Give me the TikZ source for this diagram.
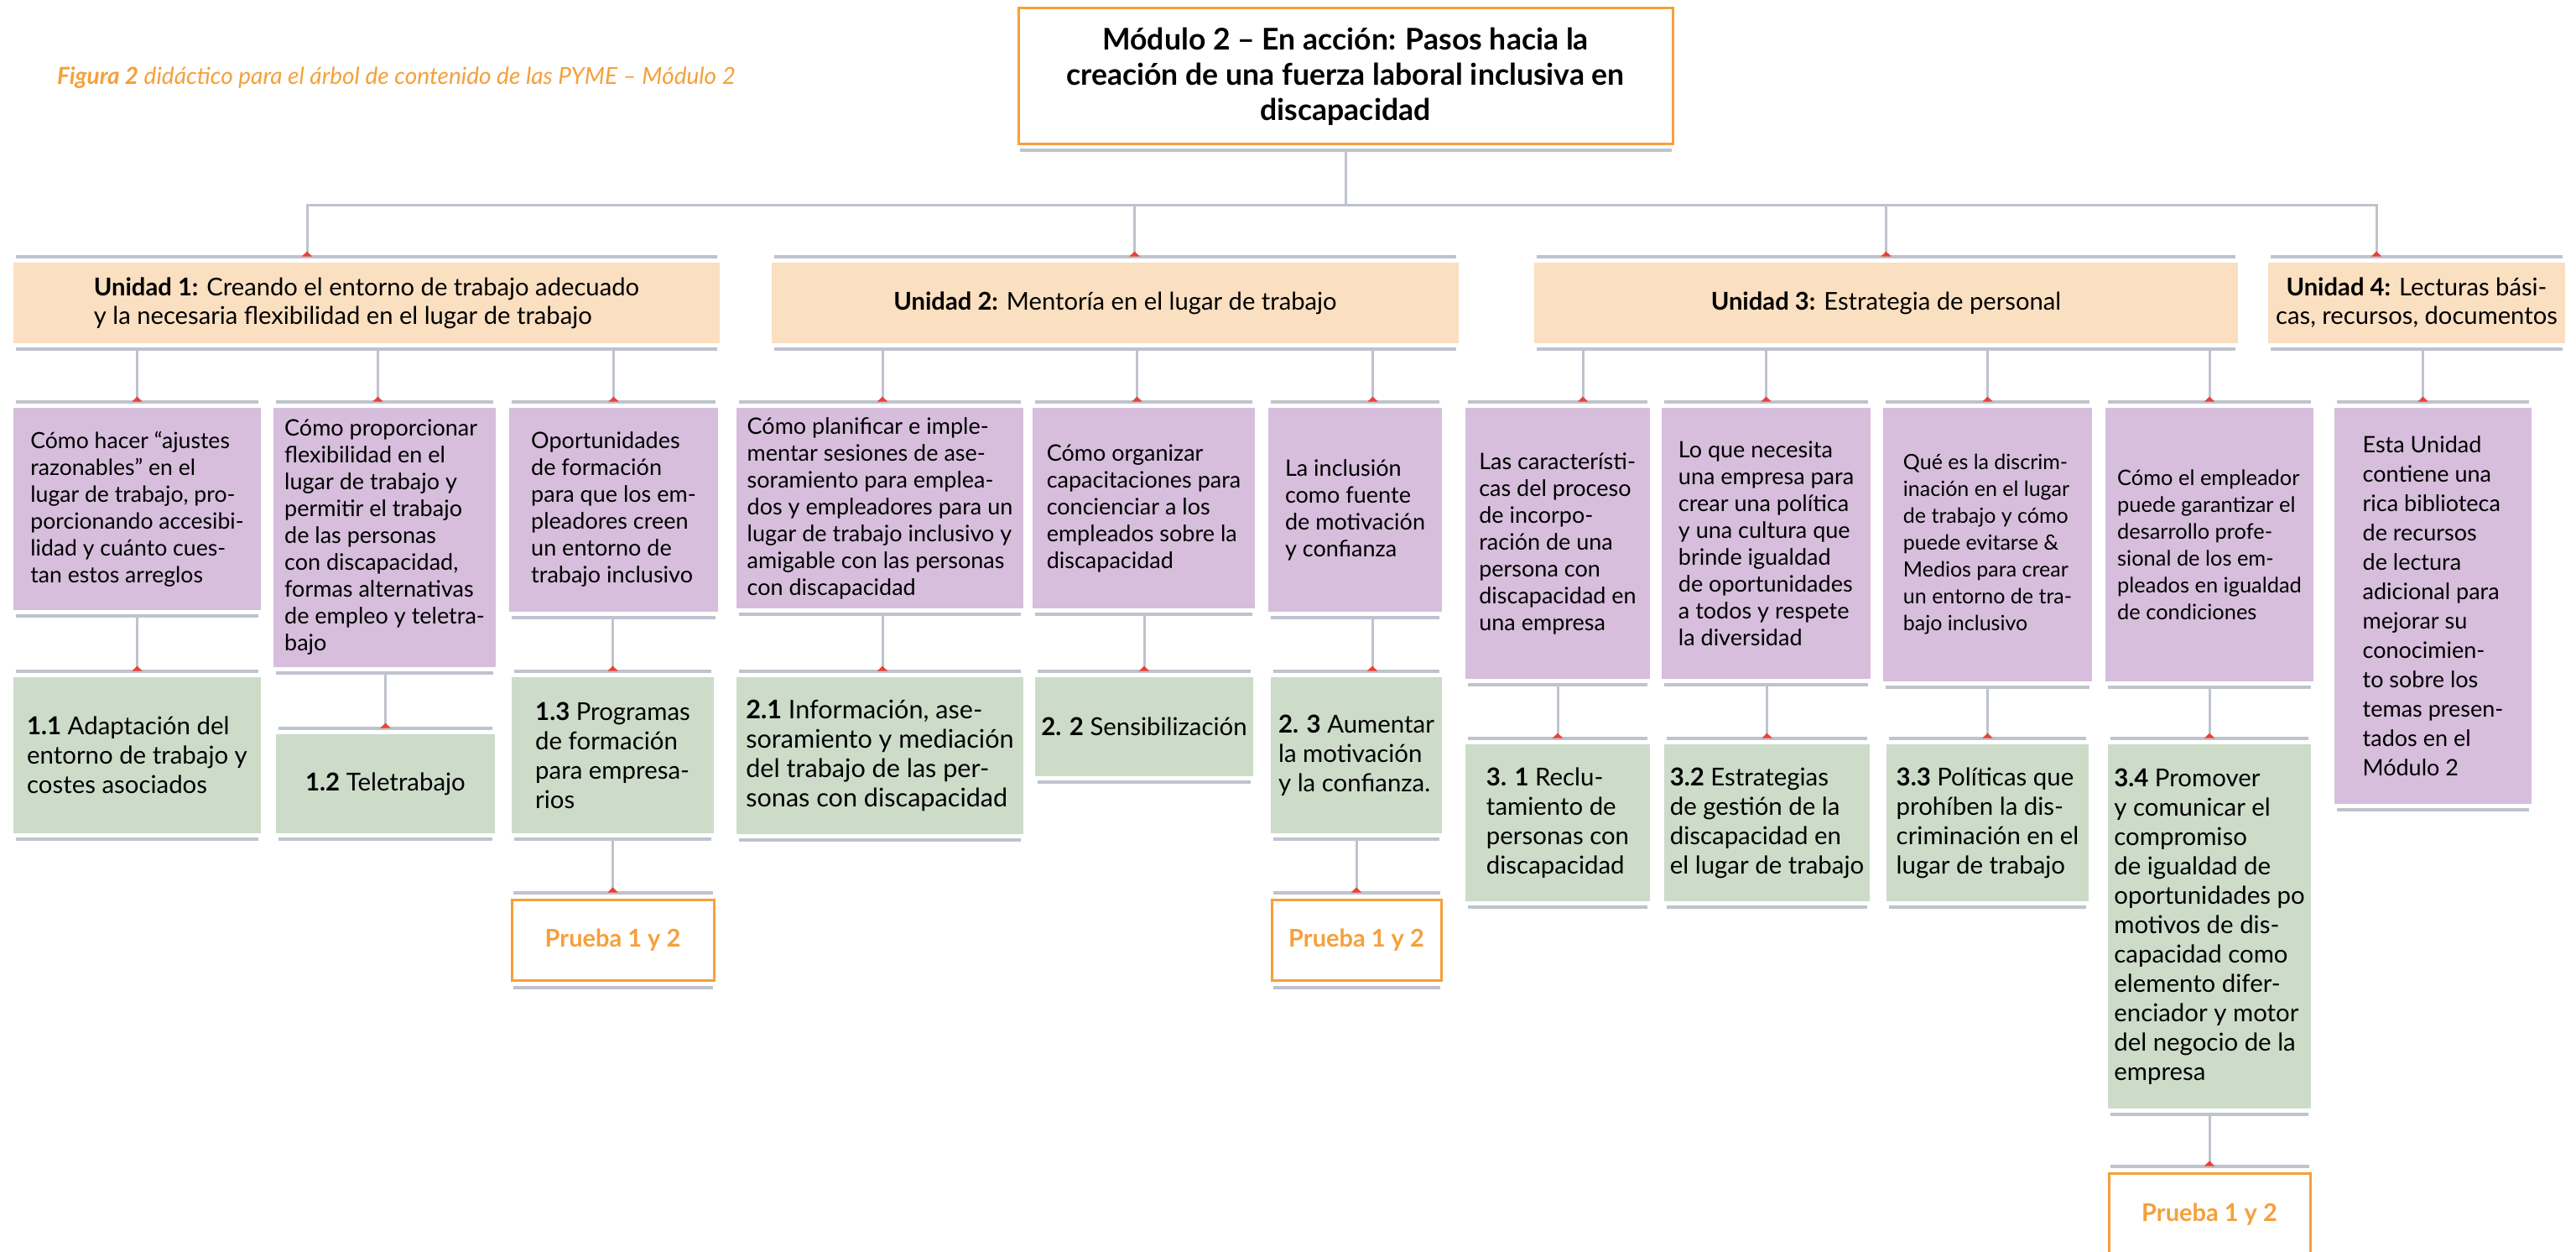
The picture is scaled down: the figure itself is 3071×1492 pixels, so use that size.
\documentclass[tikz,border=0pt]{standalone}
\usepackage{fontspec}
\setmainfont{Lato}
\usetikzlibrary{arrows.meta,calc}

\definecolor{naranja}{HTML}{F5A03B}
\definecolor{durazno}{HTML}{FADFC0}
\definecolor{lila}{HTML}{D6BEDC}
\definecolor{salvia}{HTML}{CCDCC9}
\definecolor{gris}{HTML}{BFC3CD}
\definecolor{rojo}{HTML}{EB4034}

\tikzset{
  caja/.style={inner sep=0pt, align=left, text=black},
  modulobox/.style={caja, draw=naranja, line width=1.5pt, align=center, font=\fontsize{17.8}{21}\selectfont\bfseries},
  unidadbox/.style={caja, fill=durazno, font=\fontsize{14.6}{17}\selectfont},
  temabox/.style={caja, fill=lila, font=\fontsize{13.5}{16}\selectfont},
  logrobox/.style={caja, fill=salvia, font=\fontsize{14.7}{17.5}\selectfont},
  pruebabox/.style={caja, draw=naranja, line width=1.5pt, text=naranja, font=\fontsize{14.5}{17}\selectfont\bfseries},
  barra/.style={draw=gris, line width=2pt},
  linea/.style={draw=gris, line width=1.5pt},
  enlace/.style={linea, -{Triangle[reversed, length=3pt, width=6pt, color=rojo]}}
}

% box #2 with style #1 between corners (#3,#4) and (#5,#6)
\newcommand\recuadro[7]{%
  \node[#1, minimum width={(#5-#3)*0.5pt}, minimum height={(#6-#4)*0.5pt}]
    (#2) at ({(#3+#5)/2},{(#4+#6)/2}) {#7};}
% gray rule above and below a box
\newcommand\barras[1]{%
  \draw[barra] ($(#1.north west)+(3,-7)$) -- ($(#1.north east)+(-3,-7)$);
  \draw[barra] ($(#1.south west)+(3,7)$) -- ($(#1.south east)+(-3,7)$);}
% drop from the rule under #1 to the rule over #2, shifted by #3
\newcommand\bajada[3]{%
  \coordinate (fin) at ($(#2.north)+(#3,-7)$);
  \draw[enlace] (fin |- #1.south) ++(0,7) -- (fin);}

\begin{document}
\begin{tikzpicture}[x=0.5pt, y=-0.5pt]
  \useasboundingbox (0,0) rectangle (3071,1492);
  \fill[white] (0,0) rectangle (3071,1492);
  \clip (0,0) rectangle (3071,1492);

  \node[anchor=west, text=naranja, font=\fontsize{14}{16}\selectfont\itshape] (figura) at (61,93)
    {\textbf{Figura 2} didáctico para el árbol de contenido de las PYME – Módulo 2};

  \recuadro{modulobox}{modulo}{1214}{10}{1994}{172}
    {Módulo 2 – En acción: Pasos hacia la\\creación de una fuerza laboral inclusiva en\\discapacidad}
  \draw[barra] ($(modulo.south west)+(3,6)$) -- ($(modulo.south east)+(-3,6)$);

  % unidades
  \recuadro{unidadbox}{u1}{16}{313}{858}{409}
    {\textbf{Unidad 1:} Creando el entorno de trabajo adecuado\\y la necesaria flexibilidad en el lugar de trabajo}
  \recuadro{unidadbox}{u2}{920}{313}{1739}{409}{\textbf{Unidad 2:} Mentoría en el lugar de trabajo}
  \recuadro{unidadbox}{u3}{1829}{313}{2668}{409}{\textbf{Unidad 3:} Estrategia de personal}
  \recuadro{unidadbox, align=center}{u4}{2704}{313}{3058}{409}
    {\textbf{Unidad 4:} Lecturas bási-\\cas, recursos, documentos}

  % temas
  \recuadro{temabox, font=\fontsize{13.3}{16}\selectfont}{t11}{16}{486}{311}{727}
    {Cómo hacer “ajustes\\razonables” en el\\lugar de trabajo, pro-\\porcionando accesibi-\\lidad y cuánto cues-\\tan estos arreglos}
  \recuadro{temabox}{t12}{326}{486}{591}{795}
    {Cómo proporcionar\\flexibilidad en el\\lugar de trabajo y\\permitir el trabajo\\de las personas\\con discapacidad,\\formas alternativas\\de empleo y teletra-\\bajo}
  \recuadro{temabox}{t13}{607}{486}{856}{729}
    {Oportunidades\\de formación\\para que los em-\\pleadores creen\\un entorno de\\trabajo inclusivo}
  \recuadro{temabox}{t21}{878}{486}{1220}{725}
    {Cómo planificar e imple-\\mentar sesiones de ase-\\soramiento para emplea-\\dos y empleadores para un\\lugar de trabajo inclusivo y\\amigable con las personas\\con discapacidad}
  \recuadro{temabox}{t22}{1231}{486}{1496}{725}
    {Cómo organizar\\capacitaciones para\\concienciar a los\\empleados sobre la\\discapacidad}
  \recuadro{temabox}{t23}{1512}{486}{1719}{729}
    {La inclusión\\como fuente\\de motivación\\y confianza}
  \recuadro{temabox}{t31}{1747}{486}{1967}{809}
    {Las característi-\\cas del proceso\\de incorpo-\\ración de una\\persona con\\discapacidad en\\una empresa}
  \recuadro{temabox}{t32}{1981}{486}{2230}{809}
    {Lo que necesita\\una empresa para\\crear una política\\y una cultura que\\brinde igualdad\\de oportunidades\\a todos y respete\\la diversidad}
  \recuadro{temabox, font=\fontsize{12.5}{16}\selectfont}{t33}{2245}{486}{2494}{812}
    {Qué es la discrim-\\inación en el lugar\\de trabajo y cómo\\puede evitarse \&\\Medios para crear\\un entorno de tra-\\bajo inclusivo}
  \recuadro{temabox, font=\fontsize{12.7}{16}\selectfont}{t34}{2510}{486}{2758}{812}
    {Cómo el empleador\\puede garantizar el\\desarrollo profe-\\sional de los em-\\pleados en igualdad\\de condiciones}
  \recuadro{temabox, font=\fontsize{13.5}{17.5}\selectfont}{t41}{2783}{486}{3018}{958}
    {Esta Unidad\\contiene una\\rica biblioteca\\de recursos\\de lectura\\adicional para\\mejorar su\\conocimien-\\to sobre los\\temas presen-\\tados en el\\Módulo 2}

  % logros
  \recuadro{logrobox}{l11}{16}{807}{311}{993}
    {\textbf{1.1} Adaptación del\\entorno de trabajo y\\costes asociados}
  \recuadro{logrobox}{l12}{329}{875}{590}{993}{\textbf{1.2} Teletrabajo}
  \recuadro{logrobox}{l13}{610}{807}{851}{993}
    {\textbf{1.3} Programas\\de formación\\para empresa-\\rios}
  \recuadro{logrobox, font=\fontsize{15.3}{17.5}\selectfont}{l21}{878}{807}{1220}{994}
    {\textbf{2.1} Información, ase-\\soramiento y mediación\\del trabajo de las per-\\sonas con discapacidad}
  \recuadro{logrobox}{l22}{1234}{807}{1494}{925}{\textbf{2. 2} Sensibilización}
  \recuadro{logrobox}{l23}{1515}{807}{1719}{993}
    {\textbf{2. 3} Aumentar\\la motivación\\y la confianza.}
  \recuadro{logrobox}{l31}{1747}{887}{1967}{1074}
    {\textbf{3. 1} Reclu-\\tamiento de\\personas con\\discapacidad}
  \recuadro{logrobox}{l32}{1984}{887}{2229}{1074}
    {\textbf{3.2} Estrategias\\de gestión de la\\discapacidad en\\el lugar de trabajo}
  \recuadro{logrobox}{l33}{2249}{887}{2490}{1074}
    {\textbf{3.3} Políticas que\\prohíben la dis-\\criminación en el\\lugar de trabajo}
  \recuadro{logrobox}{l34}{2513}{887}{2755}{1321}
    {\textbf{3.4} Promover\\y comunicar el\\compromiso\\de igualdad de\\oportunidades po\\motivos de dis-\\capacidad como\\elemento difer-\\enciador y motor\\del negocio de la\\empresa}

  % pruebas
  \recuadro{pruebabox}{q1}{610}{1072}{851}{1168}{Prueba 1 y 2}
  \recuadro{pruebabox}{q2}{1516}{1072}{1718}{1168}{Prueba 1 y 2}
  \recuadro{pruebabox}{q3}{2514}{1398}{2754}{1496}{Prueba 1 y 2}

  \foreach \n in {u1,u2,u3,u4,t11,t12,t13,t21,t22,t23,t31,t32,t33,t34,t41,
                  l11,l12,l13,l21,l22,l23,l31,l32,l33,l34,q1,q2,q3}
    {\barras{\n}}

  % tronco
  \coordinate (bus) at ($(modulo.south)+(0,71)$);
  \draw[linea] ($(modulo.south)+(0,6)$) -- (bus);
  \foreach \u/\d in {u1/-71,u2/23,u3/0,u4/-48}
    {\coordinate (b-\u) at ($(\u.north)+(\d,-7)$);
     \draw[enlace] (b-\u |- bus) -- (b-\u);}
  \draw[linea, line cap=rect] (b-u1 |- bus) -- (b-u4 |- bus);

  \foreach \a/\b/\d in {u1/t11/0, u1/t12/-8, u1/t13/0,
                        u2/t21/3, u2/t22/-8, u2/t23/21,
                        u3/t31/30, u3/t32/0, u3/t33/0, u3/t34/0, u4/t41/-12,
                        t11/l11/0, t12/l12/0, t13/l13/0,
                        t21/l21/3, t22/l22/0, t23/l23/19,
                        t31/l31/0, t32/l32/0, t33/l33/0, t34/l34/0,
                        l13/q1/0, l23/q2/0, l34/q3/0}
    {\bajada{\a}{\b}{\d}}
\end{tikzpicture}
\end{document}
